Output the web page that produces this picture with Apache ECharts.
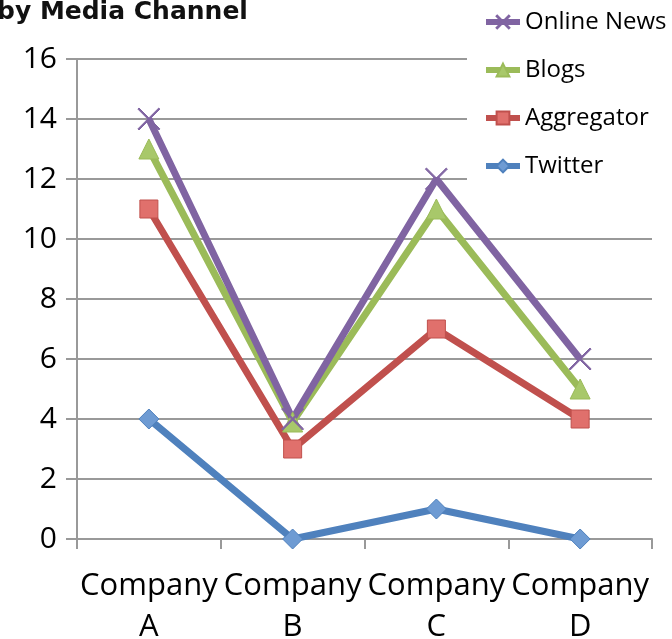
<!DOCTYPE html>
<html>
<head>
<meta charset="utf-8">
<script src="https://cdn.jsdelivr.net/npm/echarts@6/dist/echarts.min.js"></script>
<style>
  html, body { margin: 0; padding: 0; background: #fff; }
  #chart { width: 672px; height: 639px; }
</style>
</head>
<body>
<div id="chart"></div>
<script>
// data
const categories = ['Company\nA', 'Company\nB', 'Company\nC', 'Company\nD']
const onlineNews = [14, 4, 12, 6]
const blogs = [13, 3.9, 11, 5]
const aggregator = [11, 3, 7, 4]
const twitter = [4, 0, 1, 0]
const legendOrder = ['Online News', 'Blogs', 'Aggregator', 'Twitter']

const font = '"Open Sans", sans-serif'
const crossPath = 'path://M0,1 L1,0 L10,9 L19,0 L20,1 L11,10 L20,19 L19,20 L10,11 L1,20 L0,19 L9,10 Z'

const mkSeries = (name, data, color, symbol, size, fill) => ({
  name,
  type: 'line',
  data,
  symbol,
  symbolSize: size,
  showSymbol: true,
  lineStyle: { color, width: 7 },
  itemStyle: { color: fill || color, borderColor: color, borderWidth: 1 },
  emphasis: { disabled: true }
})

const chart = echarts.init(document.getElementById('chart'))
chart.setOption({
  animation: false,
  backgroundColor: '#fff',
  title: {
    text: 'by Media Channel',
    left: -3,
    top: 0,
    padding: 0,
    textStyle: { fontFamily: '"DejaVu Sans", sans-serif', fontWeight: 'bold', fontSize: 25, color: '#111' }
  },
  legend: {
    data: legendOrder,
    orient: 'vertical',
    left: 467,
    top: 0,
    padding: [6, 4, 12, 16],
    backgroundColor: '#fff',
    itemWidth: 34,
    itemHeight: 16,
    itemGap: 16,
    lineStyle: { width: 6 },
    textStyle: { fontFamily: font, fontSize: 24, color: '#000', lineHeight: 32 }
  },
  grid: { left: 77, right: 20, top: 59, bottom: 100, containLabel: false, outerBoundsMode: 'none' },
  xAxis: {
    type: 'category',
    data: categories,
    boundaryGap: true,
    axisLine: { lineStyle: { color: '#999', width: 2 } },
    axisTick: { show: true, length: 10, lineStyle: { color: '#999', width: 2 } },
    axisLabel: { interval: 0, fontFamily: font, fontSize: 31, color: '#000', margin: 27, lineHeight: 41 }
  },
  yAxis: {
    type: 'value',
    min: 0,
    max: 16,
    interval: 2,
    axisLine: { show: true, lineStyle: { color: '#999', width: 2 } },
    axisTick: { show: true, inside: false, length: 11, lineStyle: { color: '#999', width: 2 } },
    axisLabel: { fontFamily: font, fontSize: 30, color: '#000', margin: 20 },
    splitLine: { lineStyle: { color: '#999', width: 2 } }
  },
  series: [
    mkSeries('Twitter', twitter, '#4F81BD', 'diamond', 20, '#6E9BD3'),
    mkSeries('Aggregator', aggregator, '#C0504D', 'rect', 18, '#E0706C'),
    mkSeries('Blogs', blogs, '#9BBB59', 'triangle', 20, '#A8C86A'),
    mkSeries('Online News', onlineNews, '#8064A2', crossPath, 22, '#8064A2')
  ]
})
</script>
</body>
</html>
